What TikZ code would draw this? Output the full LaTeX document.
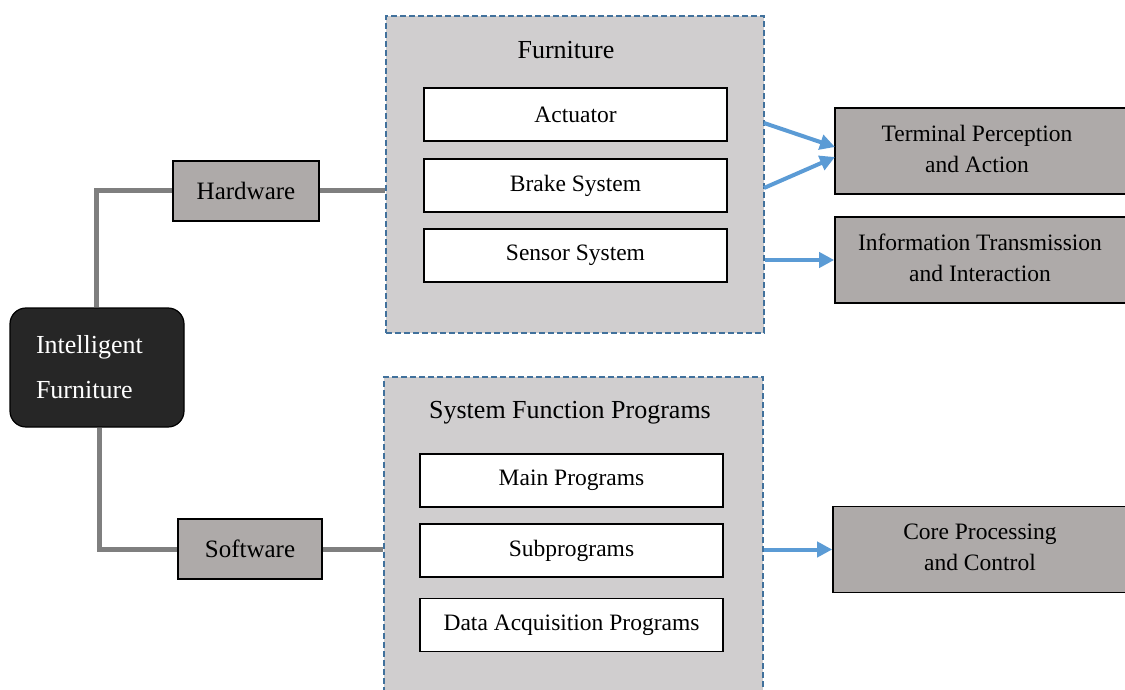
\documentclass[tikz,border=0pt]{standalone}
\usepackage{fontspec}
\setmainfont{Liberation Serif}
\usetikzlibrary{arrows.meta}
\definecolor{dark}{RGB}{38,38,38}
\definecolor{boxgray}{RGB}{174,170,169}
\definecolor{panel}{RGB}{208,206,207}
\definecolor{dashblue}{RGB}{65,113,156}
\definecolor{linkgray}{RGB}{127,127,127}
\definecolor{arrowblue}{RGB}{91,155,213}
\tikzset{
  root/.style={draw=black, line width=1.2pt, fill=dark, text=white, rounded corners=16pt,
    minimum width=174pt, minimum height=119pt, text width=122pt, align=left, inner sep=0pt,
    font=\fontsize{26}{45}\selectfont},
  branch/.style={draw=black, line width=1.6pt, fill=boxgray, inner sep=0pt,
    minimum height=60pt, font=\fontsize{25}{30}\selectfont},
  panelbox/.style={draw=dashblue, line width=1.8pt, dash pattern=on 6pt off 3pt, fill=panel, inner sep=0pt},
  paneltitle/.style={font=\fontsize{26}{30}\selectfont, inner sep=0pt},
  item/.style={draw=black, line width=1.6pt, fill=white, inner sep=0pt,
    minimum width=303pt, minimum height=53pt, font=\fontsize{23.5}{28}\selectfont},
  outcome/.style={draw=black, line width=1.6pt, fill=boxgray, inner sep=0pt, align=center,
    minimum height=86pt, font=\fontsize{23.5}{31}\selectfont},
  link/.style={draw=linkgray, line width=5pt},
  flow/.style={draw=arrowblue, line width=4pt, -{Triangle[length=15pt,width=15pt]}}
}
\begin{document}
\begin{tikzpicture}[x=1pt,y=-1pt]
\useasboundingbox (0,0) rectangle (1125,690);
% panels
\node[panelbox, minimum width=378pt, minimum height=317pt] (furn) at (575,174.5) {};
\node[panelbox, minimum width=379pt, minimum height=318pt] (sfp) at (573.5,536) {};
\node[paneltitle] (furntitle) at (566,50) {Furniture};
\node[paneltitle] (sfptitle) at (570,413) {System Function Programs};
% items
\node[item] (act) at (575.5,114.5) {Actuator};
\node[item] (brake) at (575.5,185.5) {Brake System};
\node[item] (sensor) at (575.5,255.5) {Sensor System};
\node[item] (main) at (571.5,480.5) {Main Programs};
\node[item] (sub) at (571.5,550.5) {Subprograms};
\node[item] (data) at (571.5,625) {Data Acquisition Programs};
% root and branches
\node[root] (root) at (97,367.5) {Intelligent\\Furniture};
\node[branch, minimum width=146pt] (hw) at (246,191) {Hardware};
\node[branch, minimum width=144pt] (sw) at (250,549) {Software};
% outcomes
\node[outcome, minimum width=295pt] (term) at (982.5,151) {};
\node[font=\fontsize{23.5}{31}\selectfont, align=center, inner sep=0pt] (termtext) at (977,149) {Terminal Perception\\and Action};
\node[outcome, minimum width=295pt] (info) at (982.5,260) {};
\node[font=\fontsize{23.5}{31}\selectfont, align=center, inner sep=0pt] (infotext) at (980,258) {Information Transmission\\and Interaction};
\node[outcome, minimum width=297pt] (core) at (981.5,549.5) {};
\node[font=\fontsize{23.5}{31}\selectfont, align=center, inner sep=0pt] (coretext) at (980,547) {Core Processing\\and Control};
% gray links
\draw[link] ([xshift=-1pt]root.north) |- (hw.west);
\draw[link] ([xshift=2pt]root.south) |- (sw.west);
\draw[link] (hw.east) -- (furn.west |- hw.east);
\draw[link] (sw.east) -- (sfp.west |- sw.east);
% blue flows
\coordinate (a1) at (764,123);
\coordinate (a2) at (764,188);
\coordinate (t1) at (835,147);
\coordinate (t2) at (835,157);
\draw[flow] (a1) -- (t1);
\draw[flow] (a2) -- (t2);
\draw[flow] (furn.east |- info.west) -- (info.west);
\draw[flow] (sfp.east |- core.west) -- (core.west);
\end{tikzpicture}
\end{document}
